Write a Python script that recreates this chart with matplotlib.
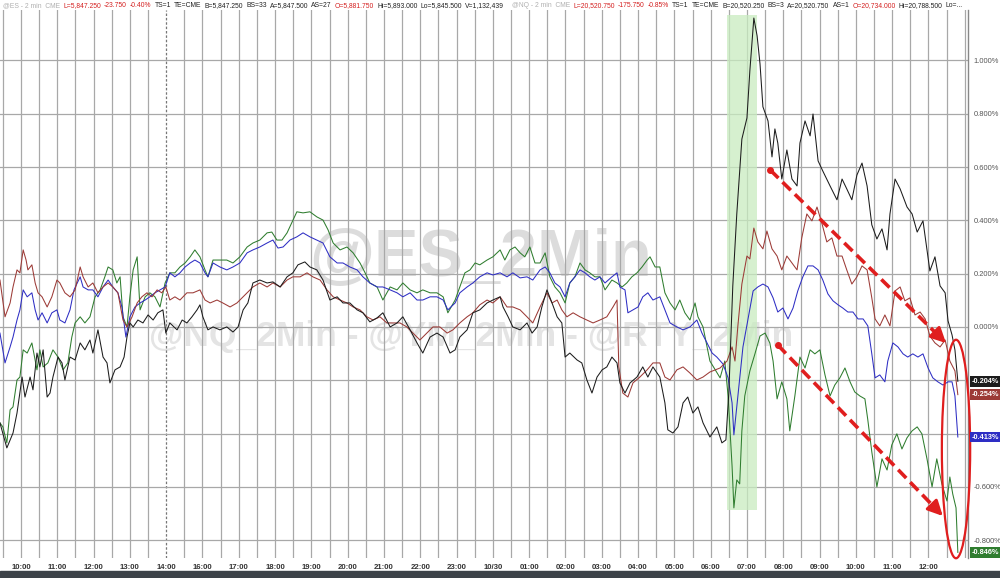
import matplotlib
matplotlib.use('Agg')
import matplotlib.pyplot as plt
import matplotlib.transforms as mtransforms
from matplotlib.patches import Ellipse, Rectangle

plt.rcParams['font.family'] = ['Liberation Sans', 'DejaVu Sans']

# x = hours from the first 10:00 label (15:00 is skipped by the session break), y = % change
hour_labels = ['10:00', '11:00', '12:00', '13:00', '14:00', '16:00', '17:00', '18:00', '19:00',
               '20:00', '21:00', '22:00', '23:00', '10/30', '01:00', '02:00', '03:00', '04:00',
               '05:00', '06:00', '07:00', '08:00', '09:00', '10:00', '11:00', '12:00']
pct_levels = [1.0, 0.8, 0.6, 0.4, 0.2, 0.0, -0.2, -0.4, -0.6, -0.8]
hidden_levels = [-0.2, -0.4]   # covered by the last-value boxes

rty_pts = [(-0.58,-0.360),(-0.39,-0.454),(-0.22,-0.398),(-0.11,-0.323),(0.03,-0.188),(0.11,-0.263),(0.25,-0.188),
           (0.33,-0.236),(0.44,-0.098),(0.52,-0.150),(0.61,-0.086),(0.72,-0.263),(0.80,-0.248),(0.88,-0.188),
           (1.02,-0.113),(1.13,-0.135),(1.21,-0.199),(1.35,-0.113),(1.49,-0.124),(1.63,-0.060),(1.76,-0.086),
           (1.90,-0.049),(1.98,-0.098),(2.12,-0.011),(2.26,-0.113),(2.37,-0.135),(2.45,-0.210),(2.59,-0.161),
           (2.73,-0.150),(2.84,-0.113),(2.92,-0.038),(3.00,0.015),(3.09,0.000),(3.22,0.026),(3.36,0.015),
           (3.50,0.045),(3.64,0.026),(3.77,0.053),(3.91,0.064),(3.99,-0.023),(4.10,0.015),(4.30,-0.011),
           (4.44,0.026),(4.57,0.015),(4.71,0.038),(4.85,0.064),(4.93,0.083),(5.01,0.038),(5.15,-0.011),
           (5.29,0.000),(5.48,-0.011),(5.67,0.000),(5.84,-0.019),(5.98,0.000),(6.12,0.064),(6.25,0.090),
           (6.39,0.165),(6.58,0.176),(6.78,0.165),(6.94,0.169),(7.14,0.150),(7.33,0.188),(7.49,0.203),
           (7.63,0.233),(7.82,0.244),(7.96,0.225),(8.15,0.214),(8.32,0.176),(8.51,0.101),(8.71,0.113),
           (8.87,0.090),(9.06,0.090),(9.26,0.064),(9.42,0.053),(9.61,0.019),(9.81,0.034),(9.97,0.053),
           (10.17,0.000),(10.36,0.015),(10.52,0.038),(10.72,-0.011),(10.91,-0.060),(11.07,-0.098),
           (11.27,-0.038),(11.46,-0.023),(11.63,-0.038),(11.82,-0.098),(11.96,-0.086),(12.09,-0.038),
           (12.29,-0.011),(12.45,0.053),(12.64,0.064),(12.84,0.090),(13.00,0.101),(13.20,0.113),(13.28,0.075),
           (13.42,0.038),(13.55,0.000),(13.75,-0.011),(13.94,0.015),(14.08,-0.023),(14.22,0.000),(14.35,0.075),
           (14.49,0.139),(14.63,0.090),(14.77,0.038),(14.90,0.015),(14.99,-0.113),(15.12,-0.098),(15.32,-0.124),
           (15.45,-0.135),(15.59,-0.199),(15.73,-0.248),(15.87,-0.188),(16.01,-0.161),(16.14,-0.150),
           (16.28,-0.113),(16.42,-0.135),(16.50,-0.210),(16.64,-0.248),(16.78,-0.210),(16.97,-0.188),
           (17.13,-0.150),(17.27,-0.188),(17.41,-0.150),(17.60,-0.188),(17.74,-0.285),(17.82,-0.386),
           (17.96,-0.398),(18.10,-0.375),(18.24,-0.285),(18.37,-0.263),(18.51,-0.323),(18.65,-0.300),
           (18.79,-0.360),(18.98,-0.413),(19.17,-0.375),(19.31,-0.435),(19.42,-0.424),(19.50,-0.248),
           (19.61,0.154),(19.72,0.424),(19.86,0.705),(20.00,0.784),(20.08,0.961),(20.19,1.159),(20.28,1.092),
           (20.36,0.987),(20.44,0.826),(20.58,0.773),(20.69,0.638),(20.77,0.743),(20.85,0.690),(20.96,0.555),
           (21.10,0.664),(21.24,0.555),(21.38,0.529),(21.46,0.690),(21.60,0.773),(21.74,0.717),(21.82,0.799),
           (21.96,0.623),(22.09,0.585),(22.29,0.529),(22.48,0.477),(22.62,0.555),(22.75,0.518),(22.89,0.477),
           (23.03,0.570),(23.17,0.615),(23.31,0.529),(23.44,0.383),(23.58,0.330),(23.72,0.368),(23.86,0.289),
           (23.94,0.424),(24.08,0.555),(24.22,0.518),(24.41,0.450),(24.55,0.424),(24.69,0.356),(24.85,0.398),
           (24.96,0.289),(25.04,0.210),(25.18,0.263),(25.32,0.154),(25.46,0.128),(25.54,0.023),(25.65,-0.030),
           (25.73,-0.086),(25.81,-0.204)]

ym_pts = [(-0.58,0.176),(-0.44,0.038),(-0.30,0.090),(-0.22,0.150),(-0.11,0.214),(-0.03,0.203),(0.06,0.289),
          (0.14,0.251),(0.19,0.214),(0.30,0.233),(0.39,0.165),(0.47,0.128),(0.58,0.113),(0.72,0.075),(0.85,0.113),
          (0.99,0.176),(1.07,0.165),(1.21,0.128),(1.35,0.113),(1.49,0.139),(1.63,0.225),(1.71,0.188),(1.85,0.150),
          (1.98,0.165),(2.12,0.128),(2.26,0.150),(2.40,0.165),(2.53,0.150),(2.67,0.128),(2.81,0.026),(2.92,0.000),
          (3.06,0.038),(3.20,0.090),(3.33,0.113),(3.47,0.128),(3.61,0.113),(3.75,0.139),(3.88,0.128),(3.99,0.150),
          (4.10,0.101),(4.24,0.113),(4.38,0.101),(4.57,0.128),(4.74,0.128),(4.93,0.139),(5.07,0.101),(5.21,0.090),
          (5.40,0.101),(5.56,0.090),(5.76,0.075),(5.95,0.090),(6.12,0.113),(6.25,0.131),(6.39,0.150),(6.58,0.165),
          (6.78,0.150),(6.94,0.165),(7.14,0.150),(7.33,0.176),(7.49,0.188),(7.69,0.188),(7.88,0.203),(8.04,0.188),
          (8.24,0.176),(8.43,0.139),(8.60,0.113),(8.79,0.101),(8.98,0.090),(9.15,0.075),(9.34,0.064),(9.53,0.038),
          (9.70,0.026),(9.89,0.038),(10.08,0.015),(10.25,0.015),(10.44,0.015),(10.63,0.000),(10.80,-0.023),
          (10.99,-0.049),(11.18,-0.023),(11.35,0.000),(11.54,0.000),(11.74,-0.023),(11.90,-0.011),(12.09,0.015),
          (12.29,0.038),(12.45,0.053),(12.64,0.083),(12.84,0.101),(13.00,0.090),(13.20,0.113),(13.39,0.075),
          (13.55,0.075),(13.75,0.064),(13.94,0.038),(14.10,0.015),(14.30,0.075),(14.49,0.128),(14.63,0.090),
          (14.77,0.101),(14.90,0.064),(15.04,0.038),(15.21,0.053),(15.40,0.038),(15.59,0.026),(15.76,0.015),
          (15.95,0.026),(16.14,0.038),(16.31,0.075),(16.42,0.101),(16.47,-0.150),(16.58,-0.248),(16.72,-0.263),
          (16.86,-0.210),(17.05,-0.188),(17.25,-0.161),(17.41,-0.135),(17.60,-0.135),(17.74,-0.188),(17.88,-0.199),
          (18.07,-0.161),(18.24,-0.150),(18.43,-0.173),(18.62,-0.199),(18.79,-0.188),(18.98,-0.169),(19.26,-0.154),
          (19.45,-0.128),(19.59,-0.075),(19.67,-0.128),(19.75,0.004),(19.86,0.161),(20.00,0.266),(20.08,0.255),
          (20.19,0.371),(20.30,0.319),(20.44,0.293),(20.55,0.360),(20.69,0.293),(20.83,0.266),(20.96,0.214),
          (21.10,0.266),(21.24,0.240),(21.38,0.214),(21.51,0.334),(21.65,0.424),(21.79,0.398),(21.93,0.450),
          (22.07,0.386),(22.20,0.319),(22.34,0.334),(22.48,0.266),(22.62,0.266),(22.75,0.214),(22.89,0.161),
          (23.03,0.188),(23.17,0.229),(23.31,0.214),(23.44,0.109),(23.53,0.030),(23.66,0.004),(23.80,0.045),
          (23.94,0.004),(24.08,0.135),(24.22,0.150),(24.35,0.098),(24.49,0.109),(24.63,0.045),(24.77,0.056),
          (24.91,0.030),(25.04,-0.034),(25.18,-0.060),(25.32,-0.075),(25.46,-0.049),(25.59,-0.128),(25.73,-0.165),
          (25.81,-0.254)]

es_pts = [(-0.58,-0.023),(-0.44,-0.135),(-0.30,-0.075),(-0.22,-0.038),(-0.11,0.026),(-0.03,0.064),(0.06,0.139),
          (0.17,0.113),(0.30,0.128),(0.39,0.064),(0.47,0.026),(0.58,0.053),(0.72,0.015),(0.85,0.053),(0.99,0.064),
          (1.07,0.026),(1.21,0.015),(1.35,0.064),(1.46,0.139),(1.63,0.188),(1.71,0.150),(1.85,0.139),(1.98,0.139),
          (2.12,0.113),(2.26,0.150),(2.40,0.176),(2.53,0.150),(2.67,0.128),(2.78,0.075),(2.89,-0.038),(3.00,0.038),
          (3.14,0.075),(3.28,0.090),(3.42,0.101),(3.55,0.113),(3.69,0.128),(3.83,0.139),(3.97,0.150),(4.10,0.203),
          (4.24,0.188),(4.38,0.203),(4.52,0.225),(4.66,0.240),(4.79,0.251),(4.93,0.240),(5.07,0.203),(5.15,0.188),
          (5.29,0.240),(5.48,0.225),(5.67,0.214),(5.84,0.225),(6.03,0.240),(6.23,0.278),(6.39,0.289),(6.58,0.300),
          (6.78,0.315),(6.94,0.326),(7.08,0.296),(7.22,0.300),(7.41,0.326),(7.60,0.338),(7.77,0.353),(7.96,0.338),
          (8.15,0.326),(8.32,0.315),(8.51,0.263),(8.71,0.240),(8.87,0.240),(9.06,0.225),(9.26,0.214),(9.42,0.188),
          (9.61,0.165),(9.81,0.150),(9.97,0.150),(10.17,0.139),(10.36,0.128),(10.52,0.113),(10.72,0.128),
          (10.91,0.101),(11.07,0.101),(11.27,0.113),(11.46,0.113),(11.63,0.101),(11.76,0.064),(11.96,0.090),
          (12.09,0.128),(12.29,0.150),(12.45,0.165),(12.64,0.188),(12.84,0.203),(13.00,0.195),(13.20,0.203),
          (13.39,0.188),(13.55,0.203),(13.75,0.184),(13.94,0.188),(14.10,0.176),(14.30,0.214),(14.44,0.225),
          (14.57,0.203),(14.71,0.165),(14.85,0.150),(14.99,0.113),(15.12,0.165),(15.26,0.188),(15.40,0.214),
          (15.54,0.203),(15.67,0.188),(15.81,0.176),(15.95,0.188),(16.09,0.165),(16.28,0.188),(16.42,0.203),
          (16.50,0.150),(16.64,0.139),(16.72,0.053),(16.86,0.064),(17.00,0.075),(17.13,0.113),(17.27,0.128),
          (17.41,0.101),(17.60,0.113),(17.74,0.064),(17.88,0.015),(18.07,0.000),(18.24,-0.011),(18.43,0.000),
          (18.62,0.026),(18.76,-0.023),(18.90,-0.060),(19.04,-0.098),(19.17,-0.113),(19.34,-0.139),(19.48,-0.191),
          (19.59,-0.285),(19.64,-0.405),(19.75,-0.259),(19.89,-0.075),(20.03,0.030),(20.17,0.135),(20.30,0.150),
          (20.44,0.161),(20.58,0.150),(20.72,0.109),(20.85,0.056),(20.99,0.071),(21.13,0.030),(21.27,0.071),
          (21.40,0.135),(21.54,0.188),(21.68,0.229),(21.82,0.229),(21.96,0.214),(22.09,0.176),(22.23,0.124),
          (22.37,0.098),(22.51,0.083),(22.64,0.071),(22.78,0.056),(22.92,0.056),(23.06,0.030),(23.20,0.030),
          (23.33,0.004),(23.44,-0.101),(23.53,-0.191),(23.66,-0.180),(23.80,-0.206),(23.88,-0.128),(24.02,-0.060),
          (24.16,-0.075),(24.30,-0.101),(24.43,-0.113),(24.57,-0.101),(24.71,-0.113),(24.85,-0.101),(24.99,-0.154),
          (25.12,-0.191),(25.26,-0.206),(25.40,-0.218),(25.54,-0.206),(25.65,-0.206),(25.73,-0.259),(25.81,-0.413)]

nq_pts = [(-0.58,-0.360),(-0.50,-0.375),(-0.39,-0.435),(-0.30,-0.311),(-0.22,-0.300),(-0.11,-0.199),(-0.03,-0.188),
          (0.06,-0.086),(0.17,-0.098),(0.30,-0.060),(0.44,-0.161),(0.52,-0.086),(0.61,-0.150),(0.74,-0.135),
          (0.88,-0.086),(1.02,-0.113),(1.16,-0.161),(1.29,-0.135),(1.40,-0.038),(1.49,0.015),(1.63,0.038),
          (1.76,0.015),(1.90,0.038),(2.04,0.113),(2.18,0.139),(2.31,0.188),(2.40,0.225),(2.53,0.214),(2.64,0.165),
          (2.73,0.188),(2.81,0.038),(2.92,0.000),(3.00,0.113),(3.09,0.214),(3.20,0.263),(3.28,0.064),(3.42,0.113),
          (3.55,0.128),(3.69,0.113),(3.83,0.075),(3.97,0.165),(4.10,0.203),(4.24,0.203),(4.38,0.225),(4.52,0.240),
          (4.66,0.263),(4.79,0.289),(4.93,0.263),(5.07,0.214),(5.15,0.188),(5.29,0.251),(5.48,0.251),(5.67,0.251),
          (5.84,0.240),(6.03,0.263),(6.23,0.300),(6.39,0.315),(6.58,0.326),(6.78,0.353),(6.91,0.356),(7.05,0.326),
          (7.19,0.326),(7.33,0.353),(7.47,0.394),(7.60,0.432),(7.77,0.428),(7.96,0.432),(8.15,0.413),(8.32,0.401),
          (8.46,0.364),(8.60,0.315),(8.79,0.289),(8.98,0.300),(9.15,0.278),(9.34,0.240),(9.48,0.203),(9.61,0.165),
          (9.81,0.150),(9.97,0.101),(10.17,0.150),(10.36,0.139),(10.52,0.165),(10.72,0.139),(10.91,0.128),
          (11.07,0.139),(11.27,0.128),(11.46,0.128),(11.63,0.113),(11.76,0.053),(11.96,0.101),(12.09,0.150),
          (12.23,0.203),(12.37,0.214),(12.51,0.240),(12.64,0.233),(12.84,0.251),(13.00,0.263),(13.20,0.289),
          (13.33,0.251),(13.47,0.289),(13.61,0.300),(13.75,0.278),(13.88,0.263),(14.02,0.300),(14.16,0.240),
          (14.30,0.240),(14.44,0.278),(14.57,0.188),(14.71,0.150),(14.85,0.128),(14.99,0.090),(15.12,0.165),
          (15.26,0.188),(15.40,0.240),(15.54,0.214),(15.67,0.203),(15.81,0.188),(15.95,0.188),(16.09,0.139),
          (16.28,0.176),(16.42,0.165),(16.56,0.150),(16.69,0.165),(16.83,0.188),(16.97,0.203),(17.11,0.225),
          (17.25,0.251),(17.33,0.263),(17.47,0.225),(17.60,0.225),(17.74,0.128),(17.88,0.090),(18.02,0.064),
          (18.15,0.101),(18.29,0.053),(18.43,0.026),(18.57,0.090),(18.65,0.038),(18.79,0.000),(18.98,-0.128),
          (19.26,-0.191),(19.39,-0.128),(19.48,-0.259),(19.59,-0.522),(19.64,-0.679),(19.72,-0.574),(19.80,-0.589),
          (19.86,-0.390),(19.94,-0.259),(20.08,-0.165),(20.22,-0.101),(20.36,-0.034),(20.50,-0.023),(20.63,-0.060),
          (20.72,-0.128),(20.83,-0.270),(20.96,-0.206),(21.10,-0.270),(21.18,-0.390),(21.32,-0.259),(21.46,-0.113),
          (21.60,-0.154),(21.74,-0.086),(21.87,-0.101),(22.01,-0.086),(22.15,-0.180),(22.29,-0.259),(22.42,-0.218),
          (22.56,-0.191),(22.70,-0.154),(22.84,-0.206),(22.97,-0.244),(23.11,-0.259),(23.25,-0.270),(23.33,-0.349),
          (23.44,-0.469),(23.58,-0.600),(23.72,-0.495),(23.86,-0.537),(23.99,-0.443),(24.13,-0.401),(24.27,-0.458),
          (24.41,-0.416),(24.55,-0.390),(24.69,-0.375),(24.82,-0.401),(24.96,-0.495),(25.10,-0.600),(25.23,-0.495),
          (25.37,-0.589),(25.51,-0.653),(25.59,-0.563),(25.67,-0.627),(25.76,-0.679),(25.81,-0.846)]

last_labels = ['-0.204%', '-0.254%', '-0.413%', '-0.846%']

es_header = [('@ES - 2 min  CME', '#b0b0b0'), ('L=5,847.250', '#d42020'), ('-23.750', '#d42020'),
             ('-0.40%', '#d42020'), ('TS=1', '#222222'), ('TE=CME', '#222222'), ('B=5,847.250', '#222222'),
             ('BS=33', '#222222'), ('A=5,847.500', '#222222'), ('AS=27', '#222222'),
             ('O=5,881.750', '#d42020'), ('Hi=5,893.000', '#222222'), ('Lo=5,845.500', '#222222'),
             ('V=1,132,439', '#222222')]
nq_header = [('@NQ - 2 min  CME', '#b0b0b0'), ('L=20,520.750', '#d42020'), ('-175.750', '#d42020'),
             ('-0.85%', '#d42020'), ('TS=1', '#222222'), ('TE=CME', '#222222'), ('B=20,520.250', '#222222'),
             ('BS=3', '#222222'), ('A=20,520.750', '#222222'), ('AS=1', '#222222'),
             ('O=20,734.000', '#d42020'), ('Hi=20,788.500', '#222222'), ('Lo=...', '#222222')]

c_rty = '#1c1c1c'
c_ym = '#9c3a36'
c_es = '#2e2ec4'
c_nq = '#2f7d2f'
red = '#e01e1e'

fig = plt.figure(figsize=(10, 5.78), dpi=100)
ax = fig.add_axes([0, 0.0346, 0.968, 0.948])
ax.set_xlim(-0.5785, 26.09)
ax.set_ylim(-0.867, 1.189)

# watermark
ax.text(0.497, 0.545, '@ES_2Min', transform=ax.transAxes, fontsize=48, fontweight='bold',
        color='#dcdcdc', ha='center', va='center', zorder=0)
ax.text(0.487, 0.405, '@NQ_2Min - @YM_2Min - @RTY_2Min', transform=ax.transAxes, fontsize=25.5,
        fontweight='bold', color='#e4e4e4', ha='center', va='center', zorder=0)

# grid: half-hour verticals, dashed at the session break
for k in range(-1, 53):
    xv = k * 0.5
    if xv == 4:
        ax.axvline(xv, color='#777777', lw=0.9, ls=(0, (2, 1.5)), zorder=1)
    else:
        ax.axvline(xv, color='#a8a8a8', lw=0.9, zorder=1)
for lv in pct_levels:
    ax.axhline(lv, color='#a8a8a8', lw=0.9, zorder=1)

# shaded event window
ax.fill_between([19.45, 20.28], -0.687, 1.171, color='#c9ecc0', alpha=0.75, lw=0, zorder=1.5)

for pts, col in [(nq_pts, c_nq), (es_pts, c_es), (ym_pts, c_ym), (rty_pts, c_rty)]:
    t, v = zip(*pts)
    ax.plot(t, v, color=col, lw=0.75, zorder=3)

# red annotations
for (x0, y0), (x1, y1) in [((20.64, 0.589), (25.54, -0.068)), ((20.85, -0.068), (25.45, -0.717))]:
    fx = x0 + (x1 - x0) * 0.93
    fy = y0 + (y1 - y0) * 0.93
    ax.plot([x0, fx], [y0, fy], color=red, lw=2.6, ls=(0, (3.2, 1.6)), zorder=4)
    ax.plot(x0, y0, 'o', color=red, ms=4, zorder=4)
    ax.annotate('', xy=(x1, y1), xytext=(fx, fy),
                arrowprops=dict(arrowstyle='-|>,head_length=0.9,head_width=0.45', color=red, lw=2.2),
                zorder=4)
ax.add_patch(Ellipse((25.76, -0.458), 0.78, 0.82, fill=False, ec=red, lw=1.6, clip_on=False, zorder=5))

# axes styling
for s in ['top', 'left', 'bottom']:
    ax.spines[s].set_visible(False)
ax.spines['right'].set_color('#888888')
ax.spines['right'].set_linewidth(1.0)
ax.set_xticks(range(len(hour_labels)))
ax.set_xticklabels(hour_labels)
ax.yaxis.tick_right()
ax.set_yticks(pct_levels)
ax.set_yticklabels(['' if p in hidden_levels else '%.3f%%' % p for p in pct_levels])
ax.tick_params(axis='x', length=0, pad=4, labelsize=5.6, labelcolor='#333333')
ax.tick_params(axis='y', length=0, pad=4, labelsize=5.4, labelcolor='#555555')
for lab in ax.get_xticklabels():
    lab.set_fontweight('bold')

# last value boxes
trans = mtransforms.blended_transform_factory(ax.transAxes, ax.transData)
for lab, col, pts in zip(last_labels, [c_rty, c_ym, c_es, c_nq], [rty_pts, ym_pts, es_pts, nq_pts]):
    ax.text(1.004, pts[-1][1], lab, transform=trans, fontsize=5.3, fontweight='bold', color='white',
            va='center', ha='left', zorder=6, clip_on=False,
            bbox=dict(boxstyle='square,pad=0.25', fc=col, ec='none'))

# bottom scroll bar
fig.patches.append(Rectangle((0, 0), 1, 7 / 578, transform=fig.transFigure, color='#3d4349', zorder=0))

# header line
fig.canvas.draw()
rend = fig.canvas.get_renderer()
for segs, x_start, x_end in [(es_header, 3, 504), (nq_header, 512, 963)]:
    items = []
    for txt, col in segs:
        items.append(fig.text(0, 1 - 5.5 / 578, txt, color=col, fontsize=4.9,
                              va='center', ha='left'))
    widths = [it.get_window_extent(rend).width for it in items]
    gap = (x_end - x_start - sum(widths)) / (len(items) - 1)
    xp = x_start
    for it, w in zip(items, widths):
        it.set_x(xp / 1000)
        xp += w + gap

fig.savefig('out.png', dpi=100)
